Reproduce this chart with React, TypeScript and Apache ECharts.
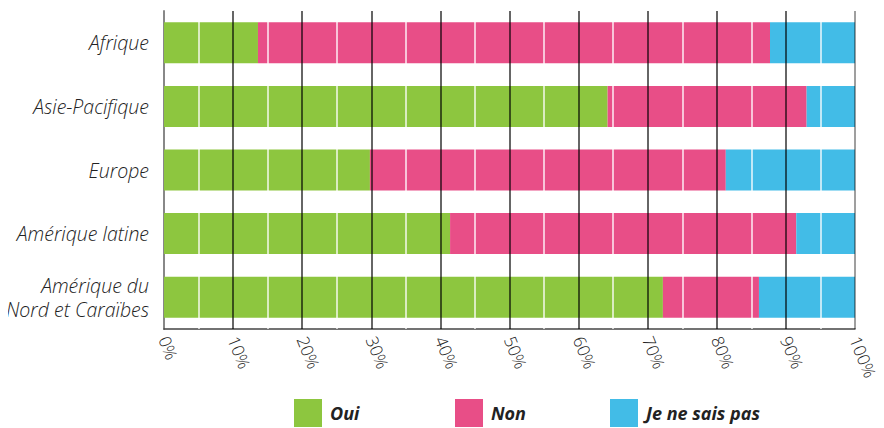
import React, { useEffect, useRef } from "react";
import * as echarts from "echarts";

const categories = ["Afrique", "Asie-Pacifique", "Europe", "Amérique latine", "Amérique du\nNord et Caraïbes"];
const oui = [13.6, 64.2, 29.8, 41.4, 72.2];
const non = [74.1, 28.8, 51.5, 50.1, 13.9];
const nsp = [12.3, 7.0, 18.7, 8.5, 13.9];
const seriesNames = ["Oui", "Non", "Je ne sais pas"];
const colors = ["#8DC63F", "#E84E87", "#42BCE7"];
const majorLines = [10, 20, 30, 40, 50, 60, 70, 80, 90];
const minorLines = [5, 15, 25, 35, 45, 55, 65, 75, 85, 95];

export default function App() {
  const ref = useRef<HTMLDivElement>(null);
  useEffect(() => {
    if (!ref.current) return;
    const chart = echarts.init(ref.current, null, { renderer: "svg" });
    const font = "'Open Sans', sans-serif";
    const legendLeft = [294, 455, 610];
    chart.setOption({
      animation: false,
      grid: { left: 164, right: 29, top: 11, height: 318, containLabel: false, outerBoundsMode: "none" },
      legend: seriesNames.map((n, i) => ({
        data: [n],
        left: legendLeft[i],
        top: 399,
        itemWidth: 28,
        itemHeight: 28,
        itemGap: 0,
        icon: "rect",
        textStyle: { fontFamily: font, fontSize: 18, fontStyle: "italic", fontWeight: "bold", color: "#222", padding: [0, 0, 0, 3] },
        padding: 0,
      })),
      xAxis: {
        type: "value",
        min: 0,
        max: 100,
        interval: 10,
        axisLine: { show: true, lineStyle: { color: "#444", width: 1.5 } },
        axisTick: { show: false },
        splitLine: { show: false },
        axisLabel: {
          formatter: "{value}%",
          rotate: -68,
          margin: 8,
          fontFamily: font,
          fontSize: 17,
          fontWeight: 300,
          color: "#222",
        },
      },
      yAxis: {
        type: "category",
        data: categories,
        inverse: true,
        axisLine: { show: true, lineStyle: { color: "#888", width: 2 } },
        axisTick: { show: false },
        axisLabel: {
          margin: 15,
          fontFamily: font,
          fontSize: 19.5,
          fontStyle: "italic",
          fontWeight: 300,
          color: "#222",
          lineHeight: 24,
          align: "right",
        },
      },
      series: [
        ...[oui, non, nsp].map((d, i) => ({
          name: seriesNames[i],
          type: "bar",
          stack: "total",
          data: d,
          barWidth: 41,
          itemStyle: { color: colors[i] },
        })),
        {
          type: "line",
          data: [],
          z: 10,
          silent: true,
          markLine: {
            silent: true,
            symbol: ["none", "none"],
            label: { show: false },
            animation: false,
            data: [
              ...minorLines.map((v) => ({ xAxis: v, lineStyle: { color: "rgba(255,255,255,0.9)", width: 1.5, type: "solid" } })),
              ...majorLines.map((v) => ({ xAxis: v, lineStyle: { color: "rgba(0,0,0,0.8)", width: 1.5, type: "solid" } })),
              { xAxis: 100, lineStyle: { color: "rgba(0,0,0,0.5)", width: 1.5, type: "solid" } },
            ],
          },
        },
      ],
    });
    return () => chart.dispose();
  }, []);
  return <div ref={ref} style={{ width: 884, height: 428, marginLeft: -8, marginTop: -8 }} />;
}
